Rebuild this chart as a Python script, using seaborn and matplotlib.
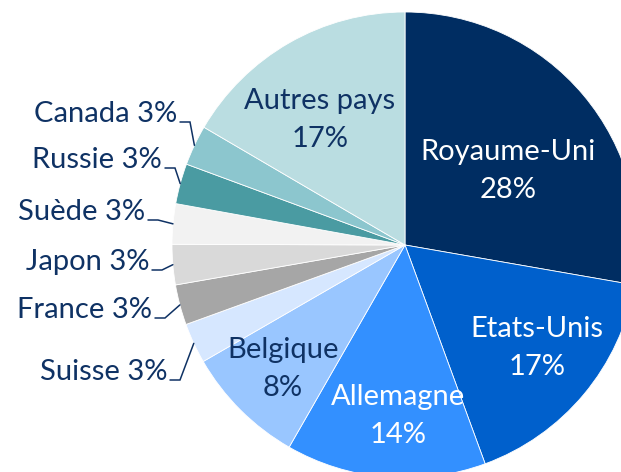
import numpy as np
import matplotlib
matplotlib.use("Agg")
import matplotlib.pyplot as plt
import seaborn as sns

# shares (clockwise from 12 o'clock)
pays = ["Royaume-Uni", "Etats-Unis", "Allemagne", "Belgique", "Suisse", "France",
        "Japon", "Suède", "Russie", "Canada", "Autres pays"]
parts = [27.8, 16.7, 13.9, 8.4, 2.8, 2.8, 2.8, 2.8, 2.8, 2.8, 16.6]
couleurs = ["#002d62", "#0060cc", "#3390ff", "#99c6ff", "#d6e7ff", "#a6a6a6",
            "#d9d9d9", "#f2f2f2", "#4a9ba2", "#8cc6ce", "#badde1"]

navy = "#0f3264"
sns.set_theme(style="white")
plt.rcParams["font.family"] = ["Lato", "DejaVu Sans"]

fig = plt.figure(figsize=(6.21, 4.72), dpi=100)
ax = fig.add_axes([0, 0, 1, 1])

cx, cy, R = 405, 472 - 245, 233
wedges, _ = ax.pie(parts, colors=couleurs, startangle=90, counterclock=False,
                   center=(cx, cy), radius=R, frame=True,
                   wedgeprops=dict(edgecolor="white", linewidth=0.6))
ax.set_xlim(0, 621)
ax.set_ylim(0, 472)
ax.set_aspect("equal")
ax.axis("off")

fs = 21

# big slices: labels inside
inside = {
    "Royaume-Uni": ((508, 171), "white"),
    "Etats-Unis": ((537, 348), "white"),
    "Allemagne": ((398, 416), "white"),
    "Belgique": ((283, 369), navy),
    "Autres pays": ((320, 120), navy),
}
for nom, val in zip(pays, parts):
    if nom in inside:
        (x, y), c = inside[nom]
        ax.text(x, 472 - y, f"{nom}\n{val:.0f}%", color=c, fontsize=fs,
                ha="center", va="center", linespacing=1.55)

# small slices: labels outside with elbow leader lines
outside = {
    "Canada": (190, 122),
    "Russie": (175, 168),
    "Suède": (158, 220),
    "Japon": (162, 270),
    "France": (165, 318),
    "Suisse": (180, 380),
}
for w, nom, val in zip(wedges, pays, parts):
    if nom not in outside:
        continue
    ex, ey = outside[nom]
    ey = 472 - ey
    mid = np.deg2rad((w.theta1 + w.theta2) / 2)
    px, py = cx + R * np.cos(mid), cy + R * np.sin(mid)
    ax.plot([ex - 10, ex, px], [ey, ey, py], color=navy, lw=1.1,
            solid_joinstyle="miter")
    ax.text(ex - 13, ey + 8, f"{nom} {val:.0f}%", color=navy, fontsize=fs,
            ha="right", va="center")

fig.savefig("out.png", dpi=100)
